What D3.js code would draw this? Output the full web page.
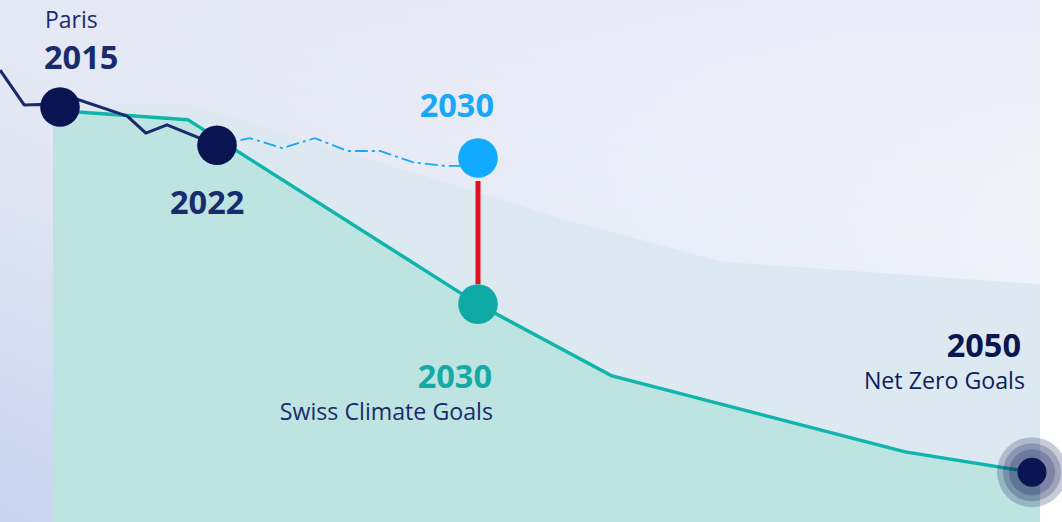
<!DOCTYPE html>
<html>
<head>
<meta charset="utf-8">
<script src="https://cdn.jsdelivr.net/npm/d3@7"></script>
<style>
  html, body { margin: 0; padding: 0; background: #ffffff; }
  svg { display: block; font-family: "Open Sans", sans-serif; }
</style>
</head>
<body>
<svg id="chart" width="1062" height="522"></svg>
<script>
// ---- data (emissions index, 2015 = 100) ----
const anchorYears = [2015, 2022, 2030, 2050];

const historyYears  = [2012.33, 2013.4, 2014.11, 2015.2, 2018, 2018.83, 2019.77, 2022];
const historyValues = [108.9, 100.5, 100.6, 102.9, 97.8, 93.7, 95.7, 90.8];

const targetYears  = [2014.69, 2015, 2020.71, 2030, 2034.84, 2045.42, 2050, 2050.29];
const targetValues = [99.2, 99.1, 96.9, 52.5, 35.2, 16.9, 12.0, 11.8];

const bandYears  = [2014.69, 2020.88, 2028.84, 2033.07, 2038.84, 2050.29];
const bandValues = [100.7, 100.5, 82.2, 73.0, 62.7, 57.3];

const trendYears  = [2022, 2023, 2024, 2025, 2026, 2027, 2028, 2029, 2030];
const trendValues = [90.8, 92.5, 90.1, 92.5, 89.4, 89.4, 86.7, 85.8, 85.8];

const milestoneYears  = [2015, 2022, 2030, 2030, 2050];
const milestoneValues = [100, 90.8, 87.7, 52.5, 12.0];
const milestoneKinds  = ["past", "past", "trend", "target", "goal"];

const labels = [
  { text: "Paris", kind: "sub" },
  { text: "2015", kind: "num" },
  { text: "2022", kind: "num" },
  { text: "2030", kind: "trendNum" },
  { text: "2030", kind: "targetNum" },
  { text: "Swiss Climate Goals", kind: "sub" },
  { text: "2050", kind: "goalNum" },
  { text: "Net Zero Goals", kind: "sub" }
];
const panelEndYear = 2050.29;

// ---- scales ----
const W = 1062, H = 522;
const x = d3.scaleLinear().domain(anchorYears).range([60, 217, 478, 1032]);
const y = d3.scaleLinear().domain([0, 100]).range([522, 107]);

const svg = d3.select("#chart");
const defs = svg.append("defs");

const bg = defs.append("linearGradient").attr("id", "bg")
  .attr("x1", "0").attr("y1", "1").attr("x2", "0.85").attr("y2", "0.1");
bg.append("stop").attr("offset", "0").attr("stop-color", "#c8d5ee");
bg.append("stop").attr("offset", "0.45").attr("stop-color", "#e2e7f4");
bg.append("stop").attr("offset", "1").attr("stop-color", "#f5f7fb");

const bg2 = defs.append("linearGradient").attr("id", "bgTop")
  .attr("x1", "0").attr("y1", "0").attr("x2", "0").attr("y2", "1");
bg2.append("stop").attr("offset", "0").attr("stop-color", "#e4e7f4").attr("stop-opacity", 0.75);
bg2.append("stop").attr("offset", "0.5").attr("stop-color", "#e4e7f4").attr("stop-opacity", 0);

const panelW = x(panelEndYear);
svg.append("rect").attr("x", 0).attr("y", 0).attr("width", panelW).attr("height", H).attr("fill", "url(#bg)");
svg.append("rect").attr("x", 0).attr("y", 0).attr("width", panelW).attr("height", H).attr("fill", "url(#bgTop)");

// band area
const band = bandYears.map((yr, i) => [yr, bandValues[i]]);
svg.append("path").datum(band)
  .attr("fill", "#dde9f1")
  .attr("d", d3.area().x(d => x(d[0])).y0(y(0)).y1(d => y(d[1])));

// target area
const target = targetYears.map((yr, i) => [yr, targetValues[i]]);
svg.append("path").datum(target)
  .attr("fill", "#bde4e0")
  .attr("d", d3.area().x(d => x(d[0])).y0(y(0)).y1(d => y(d[1])));

// target line
const line = d3.line().x(d => x(d[0])).y(d => y(d[1]));
svg.append("path").datum(target.slice(1, 7))
  .attr("fill", "none").attr("stroke", "#0fb5ac").attr("stroke-width", 3.5)
  .attr("stroke-linejoin", "round")
  .attr("d", line);

// history line
const history = historyYears.map((yr, i) => [yr, historyValues[i]]);
history.splice(3, 0, [2015, 100]);
svg.append("path").datum(history)
  .attr("fill", "none").attr("stroke", "#1b2a6b").attr("stroke-width", 3.1)
  .attr("stroke-linejoin", "round")
  .attr("d", line);

// trend (dash-dot) line
const trend = trendYears.map((yr, i) => [yr, trendValues[i]]);
svg.append("path").datum(trend)
  .attr("fill", "none").attr("stroke", "#19a8f3").attr("stroke-width", 1.8)
  .attr("stroke-dasharray", "13,4,3,4")
  .attr("d", line);

// gap line between trend and target in 2030
const gapTop = y(milestoneValues[2]) + 23;
const gapBottom = y(milestoneValues[3]) - 20;
svg.append("line")
  .attr("x1", x(2030)).attr("x2", x(2030))
  .attr("y1", gapTop).attr("y2", gapBottom)
  .attr("stroke", "#e0101f").attr("stroke-width", 5);

// milestone dots
const colors = { past: "#0b1452", trend: "#12aaff", target: "#10aaa6", goal: "#0b1452" };
milestoneYears.forEach((yr, i) => {
  const cx = x(yr), cy = y(milestoneValues[i]);
  const kind = milestoneKinds[i];
  if (kind === "goal") {
    [35, 29, 23].forEach(r => {
      svg.append("circle").attr("cx", cx).attr("cy", cy).attr("r", r)
        .attr("fill", "#0b1452").attr("fill-opacity", 0.22);
    });
    svg.append("circle").attr("cx", cx).attr("cy", cy).attr("r", 14.5).attr("fill", colors[kind]);
  } else {
    svg.append("circle").attr("cx", cx).attr("cy", cy).attr("r", 19.8).attr("fill", colors[kind]);
  }
});

// labels
const navy = "#1a2b6d";
function addText(lbl, px, py, anchor, size, weight, fill) {
  svg.append("text").attr("x", px).attr("y", py)
    .attr("text-anchor", anchor)
    .attr("font-size", size).attr("font-weight", weight)
    .attr("fill", fill).text(lbl.text);
}
addText(labels[0], x(2015) - 15, 28, "start", 23, 400, navy);
addText(labels[1], x(2015) - 16, 69, "start", 32.5, 700, navy);
addText(labels[2], x(2022) - 47, 214, "start", 32.5, 700, navy);
addText(labels[3], x(2030) + 16, 117, "end", 32.5, 700, "#19a8f5");
addText(labels[4], x(2030) + 14, 388, "end", 32.5, 700, "#17aaa5");
addText(labels[5], x(2030) + 15, 420, "end", 23.2, 400, navy);
addText(labels[6], x(2050) - 11, 357, "end", 32.5, 700, "#0b1650");
addText(labels[7], x(2050) - 7, 389, "end", 23.2, 400, "#0f1d5c");
</script>
</body>
</html>
